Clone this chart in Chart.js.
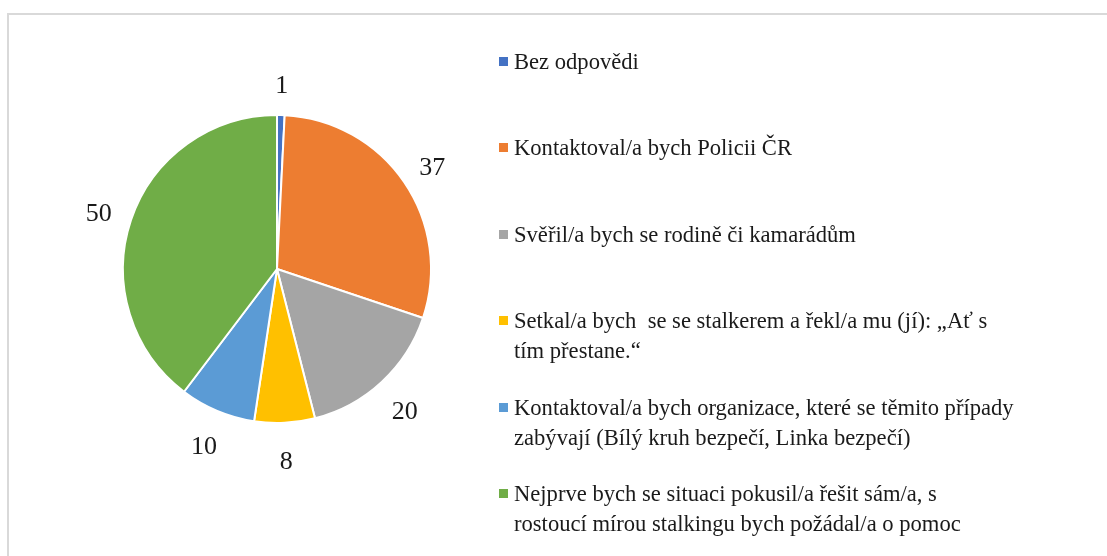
<!DOCTYPE html>
<html>
<head>
<meta charset="utf-8">
<script src="https://cdn.jsdelivr.net/npm/chart.js@4.4.0/dist/chart.umd.min.js"></script>
<style>
    html, body { margin: 0; padding: 0; background: #fff; overflow: hidden; }
    #wrap { position: relative; width: 1107px; height: 556px; }
    #frame {
        position: absolute; left: 7px; top: 13px; width: 1200px; height: 700px;
        border: 2px solid #d9d9d9; box-sizing: border-box;
    }
    #chart { position: absolute; left: 0; top: 0; }
    #legend {
        position: absolute; left: 499px; top: 47px;
        font-family: "Liberation Serif", "Times New Roman", serif;
        font-size: 22.6px; color: #1a1a1a;
    }
    .item { position: relative; height: 86.4px; }
    .box { position: absolute; left: 0; top: 10px; width: 9px; height: 9px; }
    .txt { position: absolute; left: 15px; top: 0; line-height: 30px; white-space: pre; }
</style>
</head>
<body>
<div id="wrap">
    <div id="frame"></div>
    <canvas id="chart" width="1107" height="556"></canvas>
    <div id="legend"></div>
</div>
<script>
// Chart data
const labels = [
    ['Bez odpovědi'],
    ['Kontaktoval/a bych Policii ČR'],
    ['Svěřil/a bych se rodině či kamarádům'],
    ['Setkal/a bych  se se stalkerem a řekl/a mu (jí): „Ať s', 'tím přestane.“'],
    ['Kontaktoval/a bych organizace, které se těmito případy', 'zabývají (Bílý kruh bezpečí, Linka bezpečí)'],
    ['Nejprve bych se situaci pokusil/a řešit sám/a, s', 'rostoucí mírou stalkingu bych požádal/a o pomoc']
];
const values = [1, 37, 20, 8, 10, 50];
const colors = ['#4472C4', '#ED7D31', '#A5A5A5', '#FFC000', '#5B9BD5', '#70AD47'];

// Value labels outside each slice
const outsideLabels = {
    id: 'outsideLabels',
    afterDatasetsDraw(chart) {
        const ctx = chart.ctx;
        const meta = chart.getDatasetMeta(0);
        ctx.save();
        ctx.font = '26px "Liberation Serif", "Times New Roman", serif';
        ctx.fillStyle = '#1a1a1a';
        ctx.textAlign = 'center';
        ctx.textBaseline = 'middle';
        meta.data.forEach((arc, i) => {
            const p = arc.getProps(['x', 'y', 'startAngle', 'endAngle', 'outerRadius'], true);
            const mid = (p.startAngle + p.endAngle) / 2;
            const r = p.outerRadius + 34;
            ctx.fillText(String(values[i]), p.x + Math.cos(mid) * r, p.y + Math.sin(mid) * r + 5);
        });
        ctx.restore();
    }
};

new Chart(document.getElementById('chart'), {
    type: 'pie',
    data: {
        labels: labels.map(l => l.join(' ')),
        datasets: [{
            data: values,
            backgroundColor: colors,
            borderColor: '#ffffff',
            borderWidth: 2
        }]
    },
    options: {
        responsive: false,
        animation: false,
        layout: {
            padding: { left: 122, right: 675, top: 114, bottom: 132 }
        },
        plugins: {
            legend: { display: false },
            tooltip: { enabled: false }
        }
    },
    plugins: [outsideLabels]
});

// Legend
const legend = document.getElementById('legend');
labels.forEach((lines, i) => {
    const item = document.createElement('div');
    item.className = 'item';
    item.innerHTML = `<span class="box" style="background:${colors[i]}"></span>` +
        `<span class="txt">${lines.join('\n')}</span>`;
    legend.appendChild(item);
});
</script>
</body>
</html>
